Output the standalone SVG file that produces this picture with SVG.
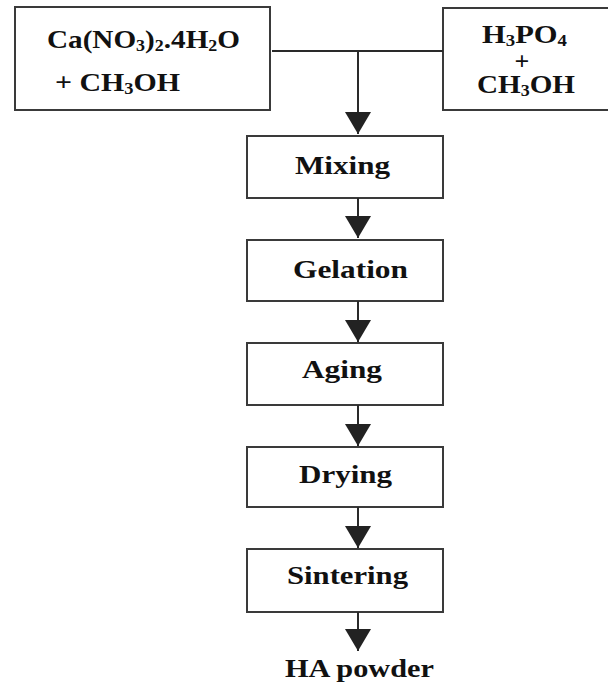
<svg xmlns="http://www.w3.org/2000/svg" width="608" height="682" viewBox="0 0 608 682">
<style>
.box{fill:#fff;stroke:#3a3a3a;stroke-width:2}
.t{font-family:"Liberation Serif","Times New Roman",serif;font-weight:bold;font-size:26px;fill:#111}
.s{font-size:16px}
.ln{stroke:#2a2a2a;stroke-width:2;fill:none}
</style>
<defs>
<marker id="ah" markerUnits="userSpaceOnUse" markerWidth="22" markerHeight="26" refX="22" refY="13" orient="auto" viewBox="0 0 22 26">
<path d="M0,0 L22,13 L0,26 Z" fill="#222"/>
</marker>
</defs>
<rect width="608" height="682" fill="#fff"/>
<g id="ca">
<rect class="box" x="15" y="7" width="255" height="103"/>
<text class="t" x="47" y="48" textLength="193" lengthAdjust="spacingAndGlyphs">Ca(NO<tspan class="s" dy="3">3</tspan><tspan dy="-3">)</tspan><tspan class="s" dy="3">2</tspan><tspan dy="-3">.4H</tspan><tspan class="s" dy="3">2</tspan><tspan dy="-3">O</tspan></text>
<text class="t" x="55" y="91" textLength="125" lengthAdjust="spacingAndGlyphs">+ CH<tspan class="s" dy="3">3</tspan><tspan dy="-3">OH</tspan></text>
</g>
<g id="h3po4">
<rect class="box" x="443" y="8" width="170" height="102"/>
<text class="t" x="482" y="43" textLength="85" lengthAdjust="spacingAndGlyphs">H<tspan class="s" dy="3">3</tspan><tspan dy="-3">PO</tspan><tspan class="s" dy="3">4</tspan></text>
<text class="t" x="522" y="70" text-anchor="middle">+</text>
<text class="t" x="477" y="93" textLength="98" lengthAdjust="spacingAndGlyphs">CH<tspan class="s" dy="3">3</tspan><tspan dy="-3">OH</tspan></text>
</g>
<g id="mixing">
<rect class="box" x="247" y="136" width="196" height="62"/>
<text class="t" x="295" y="174" textLength="95" lengthAdjust="spacingAndGlyphs">Mixing</text>
</g>
<g id="gelation">
<rect class="box" x="247" y="240" width="196" height="61"/>
<text class="t" x="293" y="278" textLength="115" lengthAdjust="spacingAndGlyphs">Gelation</text>
</g>
<g id="aging">
<rect class="box" x="247" y="343" width="196" height="62"/>
<text class="t" x="302" y="378" textLength="80" lengthAdjust="spacingAndGlyphs">Aging</text>
</g>
<g id="drying">
<rect class="box" x="247" y="447" width="196" height="60"/>
<text class="t" x="299" y="483" textLength="93" lengthAdjust="spacingAndGlyphs">Drying</text>
</g>
<g id="sintering">
<rect class="box" x="247" y="549" width="196" height="63"/>
<text class="t" x="287" y="584" textLength="121" lengthAdjust="spacingAndGlyphs">Sintering</text>
</g>
<g id="ha">
<text class="t" x="285" y="677" textLength="149" lengthAdjust="spacingAndGlyphs">HA powder</text>
</g>
<g id="connectors">
<path class="ln" d="M272,51 H443"/>
<path class="ln" d="M358,51 V134" marker-end="url(#ah)"/>
<path class="ln" d="M358,198 V238" marker-end="url(#ah)"/>
<path class="ln" d="M358,301 V342" marker-end="url(#ah)"/>
<path class="ln" d="M358,405 V446" marker-end="url(#ah)"/>
<path class="ln" d="M358,507 V548" marker-end="url(#ah)"/>
<path class="ln" d="M358,612 V651" marker-end="url(#ah)"/>
</g>
</svg>
